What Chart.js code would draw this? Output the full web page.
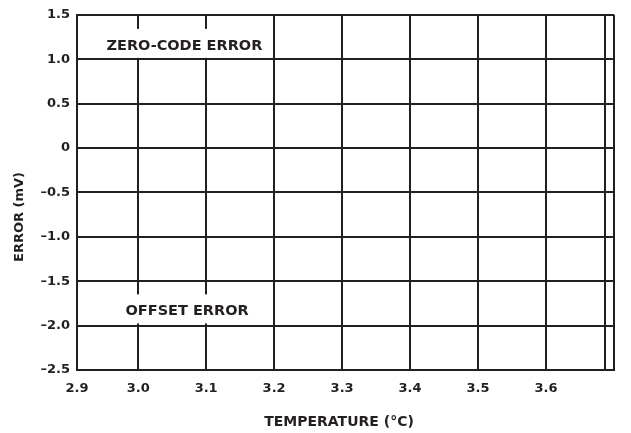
<!DOCTYPE html>
<html>
<head>
<meta charset="utf-8">
<script src="https://cdn.jsdelivr.net/npm/chart.js@4"></script>
<style>
  body { margin: 0; background: #fff; }
  #wrap { width: 631px; height: 433px; }
</style>
</head>
<body>
<div id="wrap"><canvas id="chart" width="631" height="433"></canvas></div>
<script>
// ---------- Data ----------
// x axis: grid positions and the labels shown under them
const xTickValues = [2.91, 3.0, 3.1, 3.2, 3.3, 3.4, 3.5, 3.6, 3.687, 3.7];
const xTickLabels = ["2.9", "3.0", "3.1", "3.2", "3.3", "3.4", "3.5", "3.6", "", ""];
// y axis
const yTickValues = [1.5, 1.0, 0.5, 0, -0.5, -1.0, -1.5, -2.0, -2.5];
const yTickLabels = ["1.5", "1.0", "0.5", "0", "–0.5", "–1.0", "–1.5", "–2.0", "–2.5"];
// text notes inside the plot (data coordinates)
const noteLabels = ["ZERO-CODE ERROR", "OFFSET ERROR"];
const noteX = [3.068, 3.072];
const noteY = [1.15, -1.84];

const INK = "#231f20";
const FONT = "'DejaVu Sans', sans-serif";

// ---------- Notes + axis titles ----------
const notesPlugin = {
  id: "notes",
  afterDraw(chart) {
    const { ctx, scales } = chart;
    ctx.save();
    ctx.font = "bold 14.5px " + FONT;
    ctx.textAlign = "center";
    ctx.textBaseline = "middle";
    noteLabels.forEach((txt, i) => {
      const px = scales.x.getPixelForValue(noteX[i]);
      const py = scales.y.getPixelForValue(noteY[i]);
      const w = ctx.measureText(txt).width;
      ctx.fillStyle = "#fff";
      ctx.fillRect(px - w / 2 - 8, py - 17, w + 16, 29);
      ctx.fillStyle = INK;
      ctx.fillText(txt, px, py);
    });

    // axis titles
    ctx.font = "bold 14px " + FONT;
    ctx.fillText("TEMPERATURE (°C)", 339, 422);
    ctx.translate(20, 217);
    ctx.rotate(-Math.PI / 2);
    ctx.font = "bold 13px " + FONT;
    ctx.fillText("ERROR (mV)", 0, 0);
    ctx.restore();
  }
};

// ---------- Chart ----------
new Chart(document.getElementById("chart"), {
  type: "scatter",
  data: { datasets: [] },
  plugins: [notesPlugin],
  options: {
    responsive: false,
    animation: false,
    layout: { padding: { top: 10, right: 17, left: 0, bottom: 0 } },
    plugins: { legend: { display: false }, tooltip: { enabled: false } },
    scales: {
      x: {
        type: "linear",
        min: 2.91,
        max: 3.7,
        afterBuildTicks: s => { s.ticks = xTickValues.map(v => ({ value: v })); },
        afterFit: s => { s.height = 63; },
        ticks: {
          autoSkip: false,
          maxRotation: 0,
          padding: 11,
          color: INK,
          font: { family: FONT, size: 13, weight: "bold" },
          callback: (v, i) => xTickLabels[i]
        },
        grid: { color: INK, lineWidth: 2, drawTicks: false },
        border: { display: true, color: INK, width: 2 }
      },
      y: {
        min: -2.5,
        max: 1.5,
        afterBuildTicks: s => { s.ticks = yTickValues.map(v => ({ value: v })); },
        afterFit: s => { s.width = 77; },
        ticks: {
          autoSkip: false,
          padding: 7,
          color: INK,
          font: { family: FONT, size: 13, weight: "bold" },
          callback: (v, i) => yTickLabels[i]
        },
        grid: { color: INK, lineWidth: 2, drawTicks: false },
        border: { display: true, color: INK, width: 2 }
      }
    }
  }
});
</script>
</body>
</html>
